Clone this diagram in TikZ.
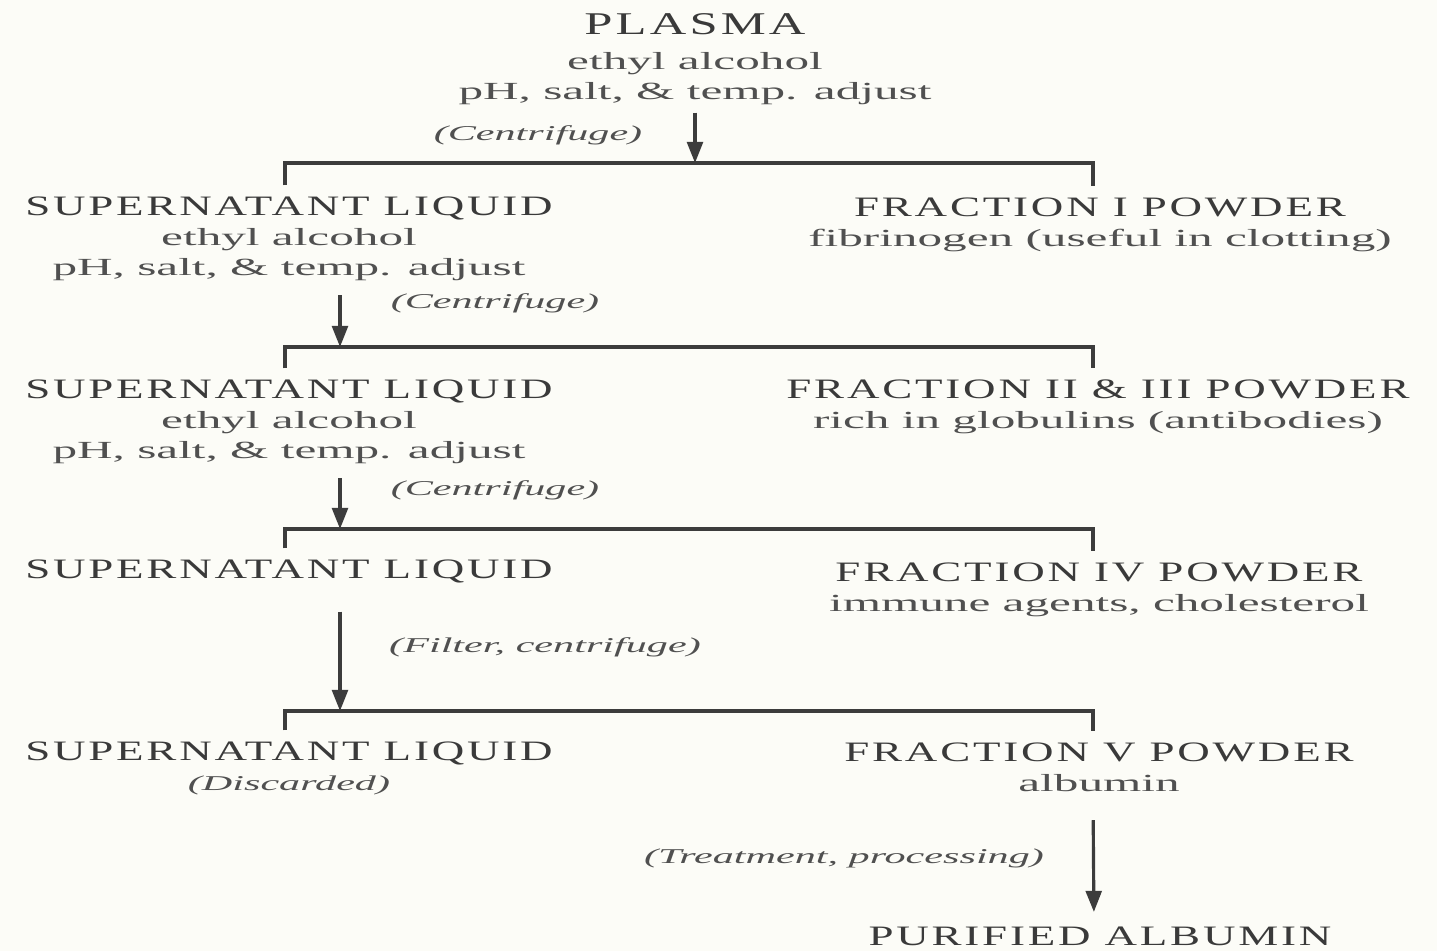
\documentclass[tikz,border=0pt]{standalone}
\usepackage{fontspec}
\usepackage{xcolor}
\usepackage{tikz}
\usetikzlibrary{arrows.meta}
\setmainfont{Liberation Serif}[FakeStretch=2.0]
\newfontfamily\capsfont{Liberation Serif}[FakeStretch=1.6, LetterSpace=10]
\definecolor{paper}{HTML}{FCFCF7}
\definecolor{inkcolor}{HTML}{505050}
\definecolor{headcolor}{HTML}{3A3A3A}
\definecolor{linecolor}{HTML}{3C3C3C}
\tikzset{
  stage/.style={anchor=north, inner sep=0pt, align=center, text=inkcolor, font=\fontsize{7}{8.5}\selectfont},
  howto/.style={inner sep=0pt, text=inkcolor, font=\fontsize{6}{7}\selectfont\itshape},
  split/.style={draw=linecolor, line width=0.9pt},
  arr/.style={draw=linecolor, line width=0.9pt, -{Triangle[length=6pt,width=4.5pt]}}
}
\newcommand{\hd}[1]{{\capsfont\fontsize{8}{8.5}\selectfont\color{headcolor}#1}}

\begin{document}
\begin{tikzpicture}%
\fill[paper] (0,0) rectangle (14.37,-9.51);%
\useasboundingbox (0,0) rectangle (14.37,-9.51);%
\node[stage] (plasma) at (6.95,-0.13) {{\capsfont\fontsize{9}{8.5}\selectfont\color{headcolor}PLASMA}\\[1.5pt] ethyl alcohol\\ pH, salt, \& temp. adjust};%
\node[stage] (s1) at (2.89,-1.96) {\hd{SUPERNATANT LIQUID}\\ ethyl alcohol\\ pH, salt, \& temp. adjust};%
\node[stage] (f1) at (11.00,-1.97) {\hd{FRACTION I POWDER}\\ fibrinogen (useful in clotting)};%
\node[stage] (s2) at (2.89,-3.79) {\hd{SUPERNATANT LIQUID}\\ ethyl alcohol\\ pH, salt, \& temp. adjust};%
\node[stage] (f2) at (10.98,-3.79) {\hd{FRACTION II \& III POWDER}\\ rich in globulins (antibodies)};%
\node[stage] (s3) at (2.89,-5.59) {\hd{SUPERNATANT LIQUID}};%
\node[stage] (f3) at (10.99,-5.62) {\hd{FRACTION IV POWDER}\\ immune agents, cholesterol};%
\node[stage] (s4) at (2.89,-7.41) {\hd{SUPERNATANT LIQUID}\\ {\itshape\fontsize{6}{8.5}\selectfont (Discarded)}};%
\node[stage] (f4) at (10.99,-7.42) {\hd{FRACTION V POWDER}\\ albumin};%
\node[stage] (pur) at (11.00,-9.26) {\hd{PURIFIED ALBUMIN}};%
\node[howto] (c1) at (5.38,-1.35) {(Centrifuge)};%
\node[howto] (c2) at (4.95,-3.03) {(Centrifuge)};%
\node[howto] (c3) at (4.95,-4.90) {(Centrifuge)};%
\node[howto] (c4) at (5.45,-6.47) {(Filter, centrifuge)};%
\node[howto] (c5) at (8.44,-8.58) {(Treatment, processing)};%
\coordinate (j1) at (6.95,-1.63);%
\coordinate (j2) at (3.40,-3.47);%
\coordinate (j3) at (3.40,-5.29);%
\coordinate (j4) at (3.40,-7.11);%
\draw[split] ([xshift=-0.04cm,yshift=3pt]s1.north) |- (j1) -| ([xshift=-0.07cm,yshift=3pt]f1.north);%
\draw[split] ([xshift=-0.04cm,yshift=3pt]s2.north) |- (j2) -| ([xshift=-0.05cm,yshift=3pt]f2.north);%
\draw[split] ([xshift=-0.04cm,yshift=3pt]s3.north) |- (j3) -| ([xshift=-0.06cm,yshift=3pt]f3.north);%
\draw[split] ([xshift=-0.04cm,yshift=3pt]s4.north) |- (j4) -| ([xshift=-0.06cm,yshift=3pt]f4.north);%
\draw[arr, shorten <=2pt] (plasma.south) -- (j1);%
\draw[arr, shorten <=4pt] (s1.south -| j2) -- (j2);%
\draw[arr, shorten <=4pt] (s2.south -| j3) -- (j3);%
\draw[arr, shorten <=8pt] (s3.south -| j4) -- (j4);%
\draw[arr, shorten <=8pt, shorten >=4pt] ([xshift=-0.06cm]f4.south) -- ([xshift=-0.06cm]pur.north);%
\end{tikzpicture}
\end{document}
